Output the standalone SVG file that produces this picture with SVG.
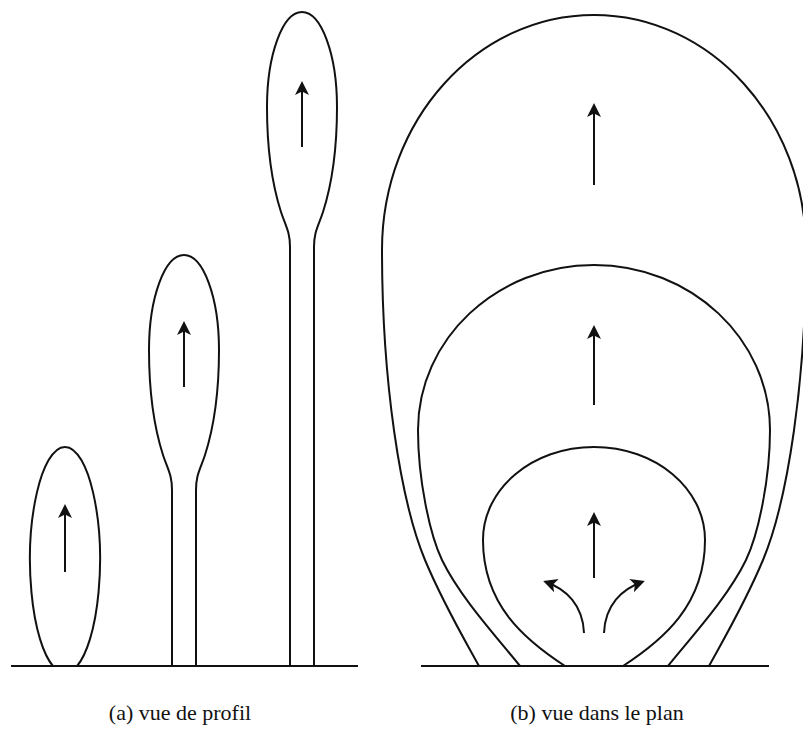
<svg xmlns="http://www.w3.org/2000/svg" width="803" height="740" viewBox="0 0 803 740">
<style>
.ln{fill:none;stroke:#111;stroke-width:2;stroke-linejoin:round}
.ar{fill:none;stroke:#111;stroke-width:2;marker-end:url(#ah)}
.lb{font-family:"Liberation Serif","DejaVu Serif",serif;font-size:22px;fill:#111;text-anchor:middle}
</style>
<defs>
<marker id="ah" markerUnits="userSpaceOnUse" viewBox="-12 -8 16 16" markerWidth="16" markerHeight="16" refX="0" refY="0" orient="auto">
<path d="M3,0 L-11,-7 L-7.5,0 L-11,7 Z" fill="#111"/>
</marker>
</defs>
<rect width="803" height="740" fill="#fff"/>
<g id="ground">
<path class="ln" d="M11,666 H358"/>
<path class="ln" d="M421,666 H769"/>
</g>
<g id="a-ellipse1">
<path class="ln" d="M52.9,666 A35,113 0 1 1 77.1,666"/>
</g>
<g id="a-bulb2">
<path class="ln" d="M172,666 L172,490 C172,475 168,470 163,455 C155,430 149,395 149,350 C149,297.5 164.7,255 184,255 C203.3,255 219,297.5 219,350 C219,395 213,430 205,455 C200,470 196,475 196,490 L196,666"/>
</g>
<g id="a-bulb3">
<path class="ln" d="M290,666 L290,247 C290,232 286,227 281,212 C273,187 267,152 267,107 C267,54.5 282.7,12 302,12 C321.3,12 337,54.5 337,107 C337,152 331,187 323,212 C318,227 314,232 314,247 L314,666"/>
</g>
<g id="b-outer">
<path class="ln" d="M479,666 C462,635 443,603 425,560 C400,500 382,380 382,250 C382,120 477,15 594,15 C711,15 806,120 806,250 C806,380 788,500 763,560 C745,603 726,635 709,666"/>
</g>
<g id="b-middle">
<path class="ln" d="M520,666 C495,635 460,597 442,560 C430,535 418,480 418,430 C418,339 497,265 594,265 C691,265 770,339 770,430 C770,480 758,535 746,560 C728,597 693,635 668,666"/>
</g>
<g id="b-inner">
<path class="ln" d="M565,666 C525,640 483,605 483,540 C483,488.6 532.4,447 594,447 C655.6,447 705,488.6 705,540 C705,605 663,640 623,666"/>
</g>
<g id="connectors">
<path class="ar" d="M65,572 V507"/>
<path class="ar" d="M184,387 V324"/>
<path class="ar" d="M302,147 V84"/>
<path class="ar" d="M594,185 V106"/>
<path class="ar" d="M594,405 V328"/>
<path class="ar" d="M594,578 V515"/>
<path class="ar" d="M584,633 C583,605 566,589 546,582"/>
<path class="ar" d="M604,633 C605,605 622,589 642,582"/>
</g>
<g id="labels">
<text class="lb" x="180" y="720">(a) vue de profil</text>
<text class="lb" x="597" y="720">(b) vue dans le plan</text>
</g>
</svg>
